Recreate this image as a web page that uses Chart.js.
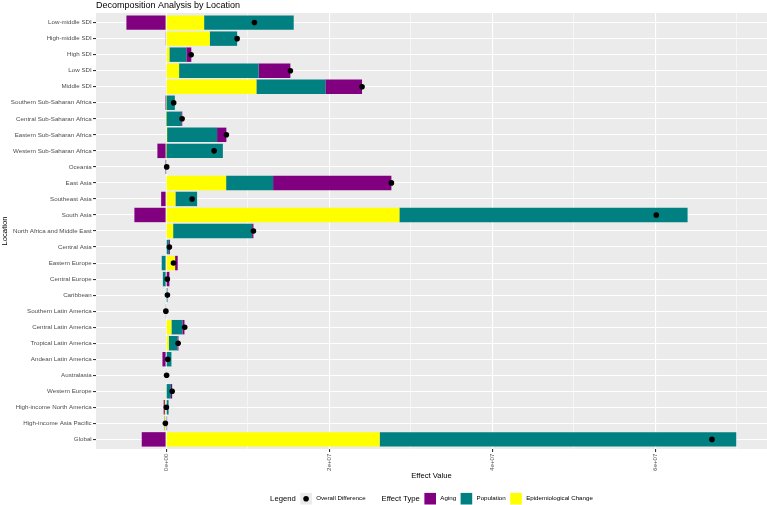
<!DOCTYPE html>
<html>
<head>
<meta charset="utf-8">
<script src="https://cdn.jsdelivr.net/npm/chart.js@4.4.1/dist/chart.umd.min.js"></script>
<style>
  html, body { margin: 0; padding: 0; background: #fff; }
</style>
</head>
<body>
<canvas id="chart" width="767" height="505"></canvas>
<script>
const categories = [
  'Low-middle SDI', 'High-middle SDI', 'High SDI', 'Low SDI', 'Middle SDI',
  'Southern Sub-Saharan Africa', 'Central Sub-Saharan Africa', 'Eastern Sub-Saharan Africa',
  'Western Sub-Saharan Africa', 'Oceania', 'East Asia', 'Southeast Asia', 'South Asia',
  'North Africa and Middle East', 'Central Asia', 'Eastern Europe', 'Central Europe',
  'Caribbean', 'Southern Latin America', 'Central Latin America', 'Tropical Latin America',
  'Andean Latin America', 'Australasia', 'Western Europe', 'High-income North America',
  'High-income Asia Pacific', 'Global'
]

// effect values
const aging = [
  -4.87e6, -0.05e6, 0.61e6, 3.89e6, 4.50e6,
  -0.12e6, 0.12e6, 1.14e6,
  -1.07e6, -0.02e6, 14.51e6, -0.61e6, -3.89e6,
  0.16e6, 0.12e6, 0.32e6, 0.40e6,
  0.02e6, 0.05e6, 0.25e6, 0.12e6,
  -0.45e6, 0.01e6, 0.15e6, -0.15e6,
  0.12e6, -2.99e6
]
const population = [
  10.99e6, 3.36e6, 2.08e6, 9.76e6, 8.46e6,
  1.05e6, 1.84e6, 6.13e6,
  6.94e6, 0.10e6, 5.76e6, 2.66e6, 35.35e6,
  9.69e6, 0.34e6, -0.54e6, -0.35e6,
  0.15e6, -0.08e6, 1.35e6, 1.07e6,
  0.65e6, 0.06e6, 0.59e6, 0.30e6,
  -0.05e6, 43.74e6
]
const epiChange = [
  4.66e6, 5.35e6, 0.40e6, 1.59e6, 11.07e6,
  0.02e6, 0.02e6, 0.12e6,
  0.02e6, 0, 7.36e6, 1.14e6, 28.61e6,
  0.86e6, 0, 1.10e6, -0.05e6,
  0, 0, 0.65e6, 0.32e6,
  0, 0, -0.08e6, -0.15e6,
  -0.17e6, 26.19e6
]
const overallDifference = [
  10.83e6, 8.71e6, 3.07e6, 15.24e6, 24.03e6,
  0.93e6, 1.96e6, 7.39e6,
  5.89e6, 0.07e6, 27.63e6, 3.19e6, 60.12e6,
  10.71e6, 0.40e6, 0.90e6, 0.15e6,
  0.16e6, -0.03e6, 2.28e6, 1.47e6,
  0.20e6, 0.06e6, 0.74e6, 0.03e6,
  -0.09e6, 66.95e6
]

// major ticks carry labels, minor ones only a thin grid line
const xGridValues = [0, 1e7, 2e7, 3e7, 4e7, 5e7, 6e7, 7e7]
const xTickValues = [0, 2e7, 4e7, 6e7]
const xTickLabels = ['0e+00', '2e+07', '4e+07', '6e+07']

const effectTypes = ['Aging', 'Population', 'Epidemiological Change']
const effectColors = ['#800080', '#008080', '#FFFF00']

const FONT = "'Liberation Sans', Arial, Helvetica, sans-serif"
Chart.defaults.font.family = FONT

const toPoints = (values) => values.map((v, i) => ({ x: v, y: i }))
const majorIndex = (v) => xTickValues.findIndex(t => Math.abs(t - v) < 10)

// ggplot-ish panel background, title and bottom legend
const panelPlugin = {
  id: 'panel',
  beforeDraw (chart) {
    const { ctx, chartArea: a } = chart
    ctx.save()
    ctx.fillStyle = '#ffffff'
    ctx.fillRect(0, 0, chart.width, chart.height)
    ctx.fillStyle = '#EBEBEB'
    ctx.fillRect(a.left, a.top, a.right - a.left, a.bottom - a.top)
    ctx.restore()
  },
  afterDraw (chart) {
    const { ctx, chartArea: a } = chart
    ctx.save()
    ctx.fillStyle = '#000000'
    ctx.textBaseline = 'alphabetic'
    ctx.textAlign = 'left'
    ctx.font = '9px ' + FONT
    ctx.fillText('Decomposition Analysis by Location', a.left, 7.5)

    // legend row
    const titleFont = '7.7px ' + FONT
    const itemFont = '6.2px ' + FONT
    const key = 11.6
    const cy = 498.7
    const groups = [
      { title: 'Legend', items: [{ label: 'Overall Difference', dot: true }] },
      { title: 'Effect Type', items: effectTypes.map((t, i) => ({ label: t, color: effectColors[i] })) }
    ]
    const measure = (font, text) => { ctx.font = font; return ctx.measureText(text).width }
    let total = 0
    groups.forEach((g, gi) => {
      total += measure(titleFont, g.title) + 4.5
      g.items.forEach((it, ii) => {
        total += key + 4.3 + measure(itemFont, it.label)
        if (ii < g.items.length - 1) total += 4.5
      })
      if (gi < groups.length - 1) total += 16
    })
    let x = (a.left + a.right) / 2 - total / 2
    ctx.textBaseline = 'middle'
    groups.forEach((g, gi) => {
      ctx.font = titleFont
      ctx.fillStyle = '#000000'
      ctx.fillText(g.title, x, cy)
      x += measure(titleFont, g.title) + 4.5
      g.items.forEach((it, ii) => {
        if (it.dot) {
          ctx.fillStyle = '#EBEBEB'
          ctx.fillRect(x, cy - key / 2, key, key)
          ctx.fillStyle = '#000000'
          ctx.beginPath()
          ctx.arc(x + key / 2, cy, 2.8, 0, Math.PI * 2)
          ctx.fill()
        } else {
          ctx.fillStyle = it.color
          ctx.fillRect(x, cy - key / 2, key, key)
        }
        x += key + 4.3
        ctx.font = itemFont
        ctx.fillStyle = '#000000'
        ctx.fillText(it.label, x, cy)
        x += measure(itemFont, it.label)
        if (ii < g.items.length - 1) x += 4.5
      })
      if (gi < groups.length - 1) x += 16
    })
    ctx.restore()
  }
}

// bars are listed in stacking order (nearest zero first)
const barSeries = [
  { label: 'Epidemiological Change', values: epiChange },
  { label: 'Population', values: population },
  { label: 'Aging', values: aging }
]

const datasets = barSeries.map(s => ({
  type: 'bar',
  label: s.label,
  data: toPoints(s.values),
  backgroundColor: effectColors[effectTypes.indexOf(s.label)],
  borderWidth: 0,
  categoryPercentage: 0.9,
  barPercentage: 1,
  order: 1
}))
datasets.push({
  type: 'scatter',
  label: 'Overall Difference',
  data: toPoints(overallDifference),
  backgroundColor: '#000000',
  borderWidth: 0,
  pointRadius: 2.8,
  stack: 'overall',
  order: 0
})

new Chart(document.getElementById('chart'), {
  type: 'bar',
  data: { datasets: datasets },
  plugins: [panelPlugin],
  options: {
    responsive: false,
    animation: false,
    indexAxis: 'y',
    layout: { autoPadding: false, padding: { top: 13, right: 0, bottom: 20, left: 0 } },
    plugins: {
      legend: { display: false },
      tooltip: { enabled: false },
      title: { display: false }
    },
    scales: {
      x: {
        type: 'linear',
        stacked: true,
        offset: false,
        min: -8.6e6,
        max: 7.37e7,
        border: { display: false },
        grid: {
          offset: false,
          color: '#ffffff',
          lineWidth: (c) => majorIndex(c.tick.value) >= 0 ? 1.1 : 0.55,
          tickColor: (c) => majorIndex(c.tick.value) >= 0 ? '#333333' : 'rgba(0,0,0,0)',
          tickLength: 3,
          tickWidth: 1.1
        },
        ticks: {
          autoSkip: false,
          minRotation: 90,
          maxRotation: 90,
          padding: 1.5,
          color: '#4D4D4D',
          font: { size: 6.2 },
          callback: function (value) {
            const i = majorIndex(value)
            return i < 0 ? '' : xTickLabels[i]
          }
        },
        title: {
          display: true,
          text: 'Effect Value',
          color: '#000000',
          font: { size: 7.7 },
          padding: { top: 0, bottom: 4.4 }
        },
        afterBuildTicks: (scale) => { scale.ticks = xGridValues.map(v => ({ value: v })) },
        afterFit: (scale) => {
          scale.height = 36
          scale.paddingLeft = 0
          scale.paddingRight = 0
        }
      },
      y: {
        type: 'linear',
        stacked: true,
        offset: false,
        reverse: true,
        min: -0.6,
        max: categories.length - 0.4,
        border: { display: false },
        grid: {
          offset: false,
          color: '#ffffff',
          lineWidth: 1.1,
          tickColor: '#333333',
          tickLength: 3,
          tickWidth: 1.1
        },
        ticks: {
          autoSkip: false,
          padding: 1.3,
          color: '#4D4D4D',
          font: { size: 6.2 },
          callback: (value) => categories[Math.round(value)] || ''
        },
        title: {
          display: true,
          text: 'Location',
          color: '#000000',
          font: { size: 7.7 },
          padding: { top: 0, bottom: 0 }
        },
        afterBuildTicks: (scale) => { scale.ticks = categories.map((c, i) => ({ value: i })) },
        afterFit: (scale) => {
          scale.width = 96
          scale.paddingTop = 0
          scale.paddingBottom = 0
        }
      }
    }
  }
})
</script>
</body>
</html>
